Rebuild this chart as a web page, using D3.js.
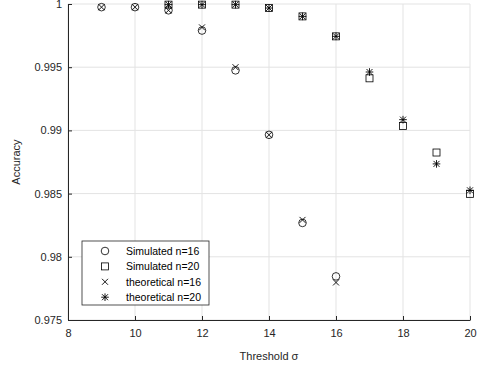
<!DOCTYPE html>
<html>
<head>
<meta charset="utf-8">
<script src="https://cdn.jsdelivr.net/npm/d3@7"></script>
<style>
body { margin: 0; background: #fff; }
text { font-family: "Liberation Sans", Arial, sans-serif; }
</style>
</head>
<body>
<script>
// thresholds and accuracies
var simX16 = [9, 10, 11, 12, 13, 14, 15, 16];
var simY16 = [0.99975, 0.99975, 0.99950, 0.99790, 0.99475, 0.98965, 0.98268, 0.97845];
var simX20 = [11, 12, 13, 14, 15, 16, 17, 18, 19, 20];
var simY20 = [0.99995, 0.99995, 0.99995, 0.99968, 0.99902, 0.99744, 0.99412, 0.99035, 0.98825, 0.98498];
var thX16 = [9, 10, 11, 12, 13, 14, 15, 16];
var thY16 = [0.99975, 0.99975, 0.99950, 0.99815, 0.99500, 0.98965, 0.98292, 0.97797];
var thX20 = [11, 12, 13, 14, 15, 16, 17, 18, 19, 20];
var thY20 = [0.99995, 0.99995, 0.99995, 0.99968, 0.99902, 0.99744, 0.99462, 0.99085, 0.98735, 0.98526];
var xTicks = [8, 10, 12, 14, 16, 18, 20];
var yTicks = [0.975, 0.98, 0.985, 0.99, 0.995, 1];
var legendLabels = ["Simulated n=16", "Simulated n=20", "theoretical n=16", "theoretical n=20"];

var margin = {top: 4, right: 8, bottom: 46, left: 68},
    width = 478 - margin.left - margin.right,
    height = 366 - margin.top - margin.bottom;

var x = d3.scaleLinear().domain([8, 20]).range([0, width]);
var y = d3.scaleLinear().domain([0.975, 1]).range([height, 0]);

var svg = d3.select("body").append("svg")
    .attr("width", 478)
    .attr("height", 366)
    .append("g")
    .attr("transform", "translate(" + margin.left + "," + margin.top + ")");

// grid
svg.append("g").selectAll("line").data(xTicks).enter().append("line")
    .attr("x1", function(d) { return x(d); }).attr("x2", function(d) { return x(d); })
    .attr("y1", 0).attr("y2", height)
    .attr("stroke", "#e3e3e3").attr("stroke-width", 1);
svg.append("g").selectAll("line").data(yTicks).enter().append("line")
    .attr("y1", function(d) { return y(d); }).attr("y2", function(d) { return y(d); })
    .attr("x1", 0).attr("x2", width)
    .attr("stroke", "#e3e3e3").attr("stroke-width", 1);

// axes
var xAxis = svg.append("g")
    .attr("transform", "translate(0," + height + ")")
    .call(d3.axisBottom(x).tickValues(xTicks).tickSizeInner(-4).tickSizeOuter(0).tickPadding(9));
var yAxis = svg.append("g")
    .call(d3.axisLeft(y).tickValues(yTicks).tickFormat(d3.format("")).tickSizeInner(-4).tickSizeOuter(0).tickPadding(6));
[xAxis, yAxis].forEach(function(a) {
    a.select(".domain").attr("stroke", "#262626");
    a.selectAll(".tick line").attr("stroke", "#262626");
    a.selectAll(".tick text").attr("fill", "#262626").style("font-size", "11px")
        .style("font-family", "'Liberation Sans', Arial, sans-serif");
});

svg.append("text")
    .attr("x", width / 2).attr("y", height + 40)
    .attr("text-anchor", "middle").attr("fill", "#262626").style("font-size", "11px")
    .text("Threshold σ");
svg.append("text")
    .attr("transform", "translate(" + (-48) + "," + (height / 2) + ") rotate(-90)")
    .attr("text-anchor", "middle").attr("fill", "#262626").style("font-size", "11px")
    .text("Accuracy");

// marker drawers
function circle(g) {
    g.append("circle").attr("r", 3.8).attr("fill", "none").attr("stroke", "#000").attr("stroke-width", 0.8);
}
function square(g) {
    g.append("rect").attr("x", -3.5).attr("y", -3.5).attr("width", 7).attr("height", 7)
        .attr("fill", "none").attr("stroke", "#000").attr("stroke-width", 0.8);
}
function cross(g) {
    g.append("path").attr("d", "M-3,-3L3,3M-3,3L3,-3").attr("stroke", "#000").attr("stroke-width", 0.9);
}
function star(g) {
    g.append("path").attr("d", "M-3,-3L3,3M-3,3L3,-3M0,-3.8L0,3.8M-3.8,0L3.8,0")
        .attr("stroke", "#000").attr("stroke-width", 0.9);
}

var series = [
    {xs: simX16, ys: simY16, draw: circle},
    {xs: simX20, ys: simY20, draw: square},
    {xs: thX16, ys: thY16, draw: cross},
    {xs: thX20, ys: thY20, draw: star}
];

series.forEach(function(s) {
    s.xs.forEach(function(xv, i) {
        var g = svg.append("g").attr("transform", "translate(" + x(xv) + "," + y(s.ys[i]) + ")");
        s.draw(g);
    });
});

// legend
var lg = svg.append("g").attr("transform", "translate(" + (82 - margin.left) + "," + (241 - margin.top) + ")");
lg.append("rect").attr("width", 127).attr("height", 64)
    .attr("fill", "#fff").attr("stroke", "#262626").attr("stroke-width", 0.8);
legendLabels.forEach(function(lab, i) {
    var row = lg.append("g").attr("transform", "translate(23," + (10 + i * 15.4) + ")");
    series[i].draw(row);
    row.append("text").attr("x", 21).attr("y", 4).attr("fill", "#000")
        .style("font-size", "10.5px").text(lab);
});
</script>
</body>
</html>
